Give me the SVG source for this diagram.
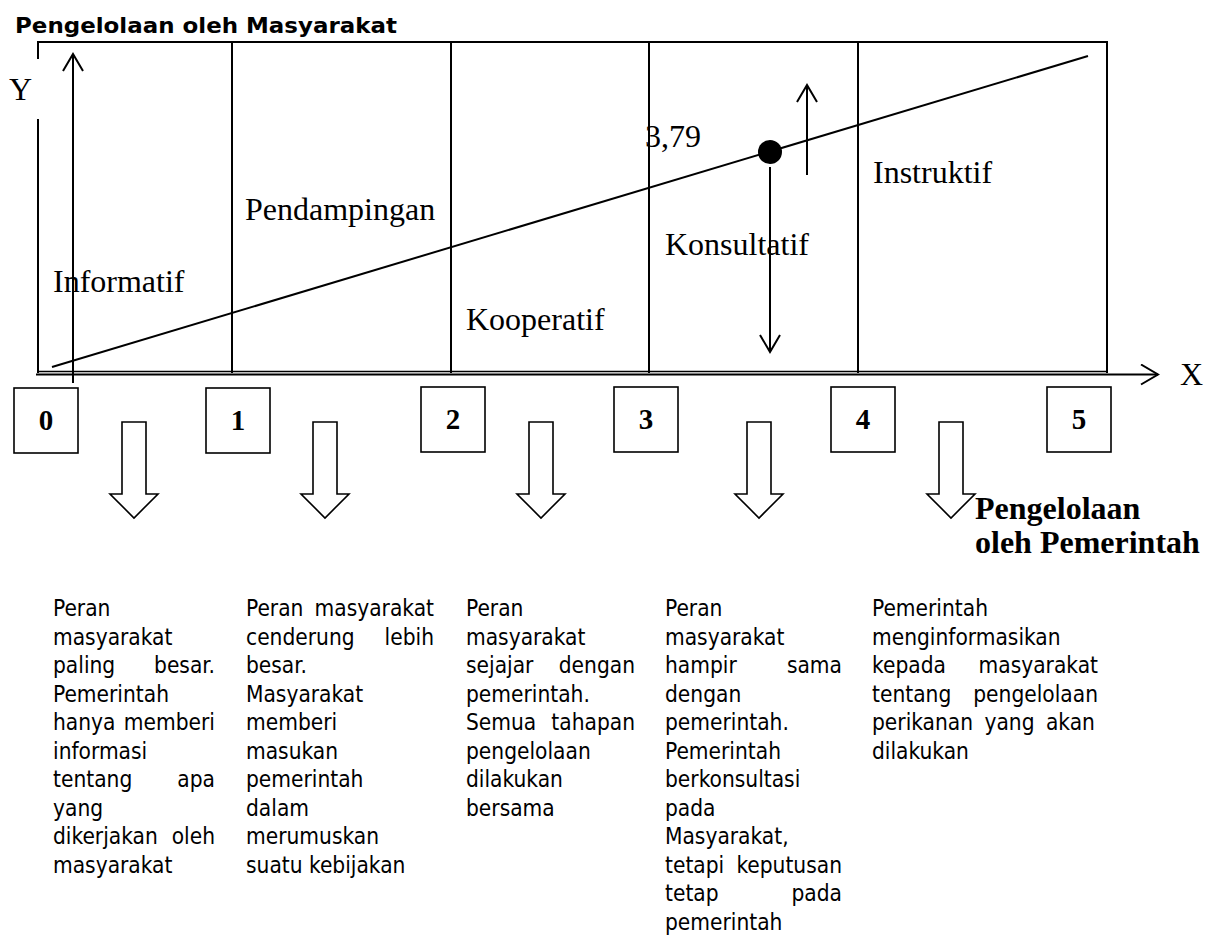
<svg xmlns="http://www.w3.org/2000/svg" width="1218" height="936" viewBox="0 0 1218 936">
<defs>
<marker id="open" viewBox="-1 -1 20 22" refX="17" refY="10" markerWidth="20" markerHeight="22" markerUnits="userSpaceOnUse" orient="auto">
<path d="M0,0 L17,10 L0,20" fill="none" stroke="#000" stroke-width="2"/>
</marker>
<style>
.ln{stroke:#000;stroke-width:2;fill:none}
.bx{stroke:#000;stroke-width:1.6;fill:#fff}
.ha{stroke:#000;stroke-width:1.6;fill:#fff}
.ser{font-family:"Liberation Serif","Times New Roman",serif;font-size:32px;fill:#000}
.num{font-family:"Liberation Serif","Times New Roman",serif;font-size:29px;font-weight:bold;fill:#000;text-anchor:middle}
.ttl{font-family:"DejaVu Sans",Tahoma,sans-serif;font-size:22px;font-weight:bold;fill:#000}
.d{font-family:"DejaVu Sans Condensed","DejaVu Sans",sans-serif;font-stretch:condensed;font-size:22.5px;fill:#000}
.e{text-anchor:end}
</style>
</defs>
<rect width="1218" height="936" fill="#fff"/>

<text id="title" class="ttl" x="15" y="33" textLength="382" lengthAdjust="spacingAndGlyphs">Pengelolaan oleh Masyarakat</text>

<g id="frame">
<line class="ln" x1="37" y1="42" x2="1108" y2="42"/>
<line class="ln" x1="38" y1="42" x2="38" y2="59"/>
<line class="ln" x1="38" y1="119" x2="38" y2="373"/>
<line class="ln" x1="1107" y1="42" x2="1107" y2="373"/>
<line class="ln" x1="232" y1="42" x2="232" y2="373"/>
<line class="ln" x1="451" y1="42" x2="451" y2="373"/>
<line class="ln" x1="649" y1="42" x2="649" y2="373"/>
<line class="ln" x1="858" y1="42" x2="858" y2="373"/>
<line x1="37" y1="371.5" x2="1107" y2="371.5" stroke="#000" stroke-width="1.5"/>
</g>

<g id="connectors">
<line class="ln" x1="36" y1="374.5" x2="1158" y2="374.5" marker-end="url(#open)"/>
<line class="ln" x1="73" y1="383" x2="73" y2="54" marker-end="url(#open)"/>
<line class="ln" x1="52" y1="367" x2="1088" y2="56"/>
<line class="ln" x1="807" y1="175" x2="807" y2="85" marker-end="url(#open)"/>
<line class="ln" x1="770" y1="167" x2="770" y2="352" marker-end="url(#open)"/>
<polygon class="ha" points="122,422 146,422 146,494 158,494 134,518 110,494 122,494"/>
<polygon class="ha" points="313,422 337,422 337,494 349,494 325,518 301,494 313,494"/>
<polygon class="ha" points="529,422 553,422 553,494 565,494 541,518 517,494 529,494"/>
<polygon class="ha" points="747,422 771,422 771,494 783,494 759,518 735,494 747,494"/>
<polygon class="ha" points="939,422 963,422 963,494 975,494 951,518 927,494 939,494"/>
</g>

<g id="point">
<circle cx="770" cy="152" r="12" fill="#000"/>
<text class="ser" x="645" y="147" font-size="29">3,79</text>
</g>

<g id="axis-labels">
<text class="ser" x="9" y="100" font-size="29">Y</text>
<text class="ser" x="1180" y="385" font-size="29">X</text>
</g>

<g id="zones">
<text id="z-informatif" class="ser" x="53" y="292">Informatif</text>
<text id="z-pendampingan" class="ser" x="245" y="220">Pendampingan</text>
<text id="z-kooperatif" class="ser" x="466" y="330">Kooperatif</text>
<text id="z-konsultatif" class="ser" x="665" y="255">Konsultatif</text>
<text id="z-instruktif" class="ser" x="873" y="183">Instruktif</text>
</g>

<g id="box0"><rect class="bx" x="14" y="388" width="64" height="65"/><text class="num" x="46" y="430">0</text></g>
<g id="box1"><rect class="bx" x="206" y="388" width="64" height="65"/><text class="num" x="238" y="430">1</text></g>
<g id="box2"><rect class="bx" x="421" y="387" width="64" height="65"/><text class="num" x="453" y="429">2</text></g>
<g id="box3"><rect class="bx" x="614" y="387" width="64" height="65"/><text class="num" x="646" y="429">3</text></g>
<g id="box4"><rect class="bx" x="831" y="387" width="64" height="65"/><text class="num" x="863" y="429">4</text></g>
<g id="box5"><rect class="bx" x="1047" y="387" width="64" height="65"/><text class="num" x="1079" y="429">5</text></g>

<g id="gov-label">
<text class="ser" x="975" y="519" font-weight="bold">Pengelolaan</text>
<text class="ser" x="975" y="553" font-weight="bold">oleh Pemerintah</text>
</g>

<g id="desc0" class="d">
<text x="53" y="616">Peran</text>
<text x="53" y="644.5">masyarakat</text>
<text x="53" y="673">paling</text><text class="e" x="215" y="673">besar.</text>
<text x="53" y="701.5">Pemerintah</text>
<text x="53" y="730">hanya</text><text class="e" x="215" y="730">memberi</text>
<text x="53" y="758.5">informasi</text>
<text x="53" y="787">tentang</text><text class="e" x="215" y="787">apa</text>
<text x="53" y="815.5">yang</text>
<text x="53" y="844">dikerjakan</text><text class="e" x="215" y="844">oleh</text>
<text x="53" y="872.5">masyarakat</text>
</g>

<g id="desc1" class="d">
<text x="246" y="616">Peran</text><text class="e" x="434" y="616">masyarakat</text>
<text x="246" y="644.5">cenderung</text><text class="e" x="434" y="644.5">lebih</text>
<text x="246" y="673">besar.</text>
<text x="246" y="701.5">Masyarakat</text>
<text x="246" y="730">memberi</text>
<text x="246" y="758.5">masukan</text>
<text x="246" y="787">pemerintah</text>
<text x="246" y="815.5">dalam</text>
<text x="246" y="844">merumuskan</text>
<text x="246" y="872.5">suatu kebijakan</text>
</g>

<g id="desc2" class="d">
<text x="466" y="616">Peran</text>
<text x="466" y="644.5">masyarakat</text>
<text x="466" y="673">sejajar</text><text class="e" x="635" y="673">dengan</text>
<text x="466" y="701.5">pemerintah.</text>
<text x="466" y="730">Semua</text><text class="e" x="635" y="730">tahapan</text>
<text x="466" y="758.5">pengelolaan</text>
<text x="466" y="787">dilakukan</text>
<text x="466" y="815.5">bersama</text>
</g>

<g id="desc3" class="d">
<text x="665" y="616">Peran</text>
<text x="665" y="644.5">masyarakat</text>
<text x="665" y="673">hampir</text><text class="e" x="842" y="673">sama</text>
<text x="665" y="701.5">dengan</text>
<text x="665" y="730">pemerintah.</text>
<text x="665" y="758.5">Pemerintah</text>
<text x="665" y="787">berkonsultasi</text>
<text x="665" y="815.5">pada</text>
<text x="665" y="844">Masyarakat,</text>
<text x="665" y="872.5">tetapi</text><text class="e" x="842" y="872.5">keputusan</text>
<text x="665" y="901">tetap</text><text class="e" x="842" y="901">pada</text>
<text x="665" y="929.5">pemerintah</text>
</g>

<g id="desc4" class="d">
<text x="872" y="616">Pemerintah</text>
<text x="872" y="644.5">menginformasikan</text>
<text x="872" y="673">kepada</text><text class="e" x="1098" y="673">masyarakat</text>
<text x="872" y="701.5">tentang</text><text class="e" x="1098" y="701.5">pengelolaan</text>
<text x="872" y="730" word-spacing="5">perikanan yang akan</text>
<text x="872" y="758.5">dilakukan</text>
</g>
</svg>
